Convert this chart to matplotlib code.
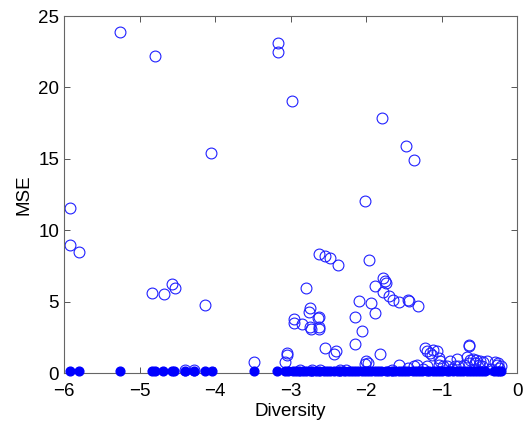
import matplotlib
matplotlib.use('Agg')
import matplotlib.pyplot as plt

# open circles: MSE vs diversity
open_x = [-5.26, -4.80, -4.05, -3.17, -3.17, -2.98, -1.79, -1.47, -1.36, -2.02,
          -5.92, -5.92, -5.80, -4.83, -4.68, -4.57, -4.53, -4.14, -4.40, -4.28, -3.48,
          -2.62, -2.55, -2.48, -2.37, -1.96, -2.79,
          -1.77, -1.75, -1.73, -1.88, -1.77, -1.70, -1.65, -1.57, -1.44, -1.43, -1.31,
          -2.10, -1.93, -1.88, -2.15, -2.06, -2.15,
          -2.74, -2.75, -2.64, -2.63, -2.95, -2.96, -2.85, -2.74, -2.73, -2.63, -2.63,
          -2.54, -2.43, -2.40, -1.81, -3.05, -3.05, -3.07,
          -2.00, -1.98, -2.02, -1.57, -1.37, -1.33,
          -1.22, -1.19, -1.15, -1.11, -1.13, -1.04, -1.19, -1.44,
          -0.64, -0.64, -1.06, -1.04, -1.02, -0.89, -0.79, -0.67, -0.62,
          -0.58, -0.54, -0.49, -0.45, -0.40, -0.56, -0.51, -0.47,
          -0.29, -0.25, -0.27, -0.22, -0.98, -0.93, -0.82, -0.78, -0.71, -0.64,
          -2.72, -2.61, -2.26, -2.88, -2.35, -1.66, -1.25, -0.86, -0.35, -0.24]
open_y = [23.86, 22.2, 15.4, 23.1, 22.5, 19.06, 17.85, 15.9, 14.9, 12.06,
          11.55, 8.94, 8.5, 5.58, 5.54, 6.26, 5.96, 4.79, 0.25, 0.25, 0.76,
          8.36, 8.22, 8.08, 7.59, 7.89, 5.93,
          6.66, 6.42, 6.31, 6.07, 5.71, 5.37, 5.09, 4.95, 5.14, 5.02, 4.67,
          5.07, 4.91, 4.21, 3.95, 2.92, 2.04,
          4.56, 4.25, 3.83, 3.9, 3.79, 3.51, 3.44, 3.23, 3.09, 3.23, 3.12,
          1.76, 1.34, 1.52, 1.34, 1.41, 1.25, 0.76,
          0.83, 0.71, 0.64, 0.59, 0.48, 0.59,
          1.76, 1.52, 1.41, 1.64, 1.29, 0.59, 0.48, 0.36,
          2.0, 1.9, 1.52, 1.06, 0.83, 0.83, 0.99, 1.13, 0.94,
          0.99, 0.90, 0.83, 0.76, 0.83, 0.71, 0.59, 0.52,
          0.76, 0.71, 0.59, 0.52, 0.49, 0.49, 0.49, 0.49, 0.59, 0.71,
          0.25, 0.25, 0.25, 0.22, 0.2, 0.22, 0.3, 0.28, 0.3, 0.35]

# filled dots
filled_x = [-5.92, -5.80, -5.26, -4.83, -4.80, -4.69, -4.57, -4.54, -4.40, -4.28,
            -4.14, -4.04, -3.48, -3.18,
            -3.07, -3.03, -2.97, -2.93, -2.89, -2.84, -2.80, -2.74, -2.71, -2.66,
            -2.62, -2.56, -2.52, -2.48, -2.43, -2.37, -2.34, -2.29, -2.23, -2.19,
            -2.15, -2.11, -2.05, -2.01, -1.98, -1.93, -1.88, -1.84, -1.80, -1.74,
            -1.71, -1.66, -1.62, -1.56, -1.53, -1.48, -1.44, -1.38, -1.34, -1.30,
            -1.26, -1.20, -1.17, -1.12, -1.07, -1.03, -0.99, -0.93, -0.90, -0.85,
            -0.80, -0.76, -0.72, -0.67, -0.63, -0.58, -0.54, -0.50, -0.47, -0.42,
            -0.30, -0.27, -0.24, -0.22]
filled_y = [0.12] * len(filled_x)

plt.rcParams['font.family'] = ['Liberation Sans', 'DejaVu Sans']

fig = plt.figure(figsize=(5.25, 4.23), dpi=100)
ax = fig.add_axes([0.122, 0.118, 0.863, 0.844])

ax.plot(open_x, open_y, 'o', mfc='none', mec='#2020ff', mew=0.8, ms=7.8, ls='none',
        clip_on=False)
ax.plot(filled_x, filled_y, 'o', color='#0000ff', ms=6.3, ls='none', clip_on=False,
        zorder=3)

ax.set_xlim(-6, 0)
ax.set_ylim(0, 25)
ax.set_xticks([-6, -5, -4, -3, -2, -1, 0])
ax.set_yticks([0, 5, 10, 15, 20, 25])
ax.set_xlabel('Diversity', fontsize=13.5, labelpad=2)
ax.set_ylabel('MSE', fontsize=13.5, labelpad=4)
ax.tick_params(direction='in', length=4, width=0.7, labelsize=13.5,
               top=True, right=True, colors='#555555', labelcolor='black')
ax.tick_params(axis='x', pad=7)
for s in ax.spines.values():
    s.set_color('#666666')
    s.set_linewidth(0.8)

fig.savefig('out.png', dpi=100)
